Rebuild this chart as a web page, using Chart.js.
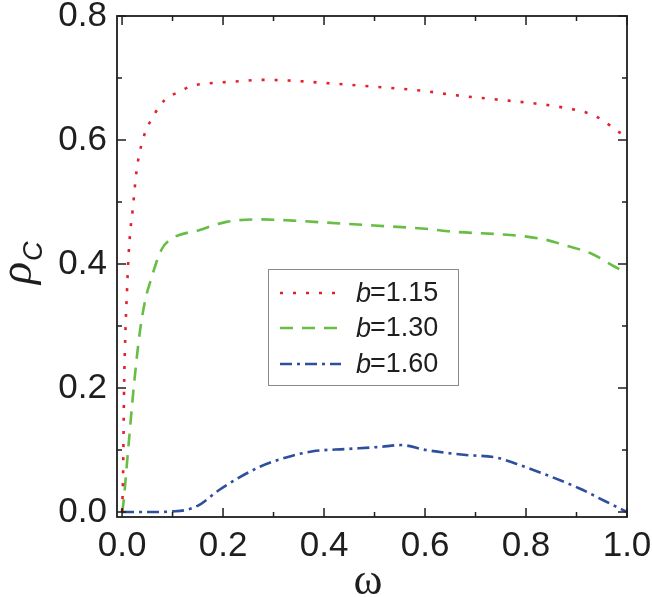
<!DOCTYPE html>
<html>
<head>
<meta charset="utf-8">
<script src="https://cdn.jsdelivr.net/npm/chart.js@4.4.1/dist/chart.umd.min.js"></script>
<style>
  html, body { margin: 0; padding: 0; background: #fff; }
  canvas { display: block; }
</style>
</head>
<body>
<canvas id="chart" width="652" height="597"></canvas>
<script>
// data
const xTicks = [0, 0.2, 0.4, 0.6, 0.8, 1.0];
const yTicks = [0, 0.2, 0.4, 0.6, 0.8];
const seriesLabels = ['1.15', '1.30', '1.60'];

const omegaRed = [0, 0.002, 0.004, 0.007, 0.010, 0.012, 0.016, 0.021, 0.029, 0.041, 0.063, 0.085, 0.114, 0.137, 0.18, 0.22, 0.276, 0.33, 0.4, 0.5, 0.6, 0.652, 0.734, 0.817, 0.869, 0.924, 0.952, 0.978, 1.0];
const rhoRed   = [0, 0.06, 0.2, 0.3, 0.36, 0.4, 0.45, 0.487, 0.552, 0.6, 0.64, 0.665, 0.678, 0.687, 0.692, 0.694, 0.697, 0.696, 0.692, 0.686, 0.679, 0.673, 0.666, 0.659, 0.653, 0.643, 0.632, 0.616, 0.605];

const omegaGreen = [0, 0.001, 0.012, 0.023, 0.035, 0.046, 0.055, 0.078, 0.095, 0.154, 0.207, 0.273, 0.338, 0.4, 0.5, 0.6, 0.658, 0.748, 0.793, 0.84, 0.882, 0.929, 0.975, 1.0];
const rhoGreen   = [0, 0.003, 0.1, 0.2, 0.289, 0.342, 0.369, 0.423, 0.439, 0.455, 0.468, 0.472, 0.47, 0.467, 0.462, 0.457, 0.452, 0.448, 0.445, 0.439, 0.429, 0.417, 0.396, 0.385];

const omegaBlue = [0, 0.05, 0.1, 0.13, 0.154, 0.193, 0.273, 0.325, 0.378, 0.444, 0.51, 0.553, 0.602, 0.681, 0.741, 0.78, 0.84, 0.906, 0.958, 1.0];
const rhoBlue   = [0, 0, 0.001, 0.004, 0.012, 0.036, 0.073, 0.088, 0.098, 0.1016, 0.105, 0.108, 0.1, 0.092, 0.088, 0.078, 0.06, 0.038, 0.017, 0.0];

const SANS = "'Liberation Sans', Arial, sans-serif";
const SERIF = "'Liberation Serif', 'Times New Roman', serif";
const INK = '#1e1e1e';

function pts(xs, ys) {
    return xs.map((x, i) => ({ x: x, y: ys[i] }));
}

function mkSet(label, xs, ys, color, dash) {
    return {
        label: label,
        data: pts(xs, ys),
        borderColor: color,
        borderWidth: 2.6,
        borderDash: dash,
        borderCapStyle: 'butt',
        pointRadius: 0,
        fill: false,
        cubicInterpolationMode: 'monotone'
    };
}

// frame + inward ticks on all four sides
const framePlugin = {
    id: 'frame',
    afterDatasetsDraw(chart) {
        const ctx = chart.ctx;
        const a = chart.chartArea;
        const xs = chart.scales.x, ys = chart.scales.y;
        ctx.save();
        ctx.strokeStyle = INK;
        ctx.lineWidth = 1.8;
        ctx.strokeRect(a.left, a.top, a.right - a.left, a.bottom - a.top);
        ctx.lineWidth = 1.5;
        ctx.beginPath();
        for (let v = 0; v <= 1.0001; v += 0.1) {
            const px = xs.getPixelForValue(v);
            const len = (Math.round(v * 10) % 2 === 0) ? 9 : 5;
            ctx.moveTo(px, a.bottom); ctx.lineTo(px, a.bottom - len);
            ctx.moveTo(px, a.top); ctx.lineTo(px, a.top + len);
        }
        for (let v = 0; v <= 0.8001; v += 0.1) {
            const py = ys.getPixelForValue(v);
            const len = (Math.round(v * 10) % 2 === 0) ? 9 : 5;
            ctx.moveTo(a.left, py); ctx.lineTo(a.left + len, py);
            ctx.moveTo(a.right, py); ctx.lineTo(a.right - len, py);
        }
        ctx.stroke();
        ctx.restore();
    }
};

// legend box with italic b
const legendPlugin = {
    id: 'boxLegend',
    afterDraw(chart) {
        const ctx = chart.ctx;
        const bx = 268, by = 269, bw = 190, bh = 116;
        ctx.save();
        ctx.fillStyle = '#fff';
        ctx.fillRect(bx, by, bw, bh);
        ctx.strokeStyle = '#8a8a8a';
        ctx.lineWidth = 1;
        ctx.strokeRect(bx + 0.5, by + 0.5, bw, bh);
        const rows = [293, 328, 364];
        chart.data.datasets.forEach((ds, i) => {
            const y = rows[i];
            ctx.strokeStyle = ds.borderColor;
            ctx.lineWidth = ds.borderWidth;
            ctx.setLineDash(ds.borderDash);
            ctx.beginPath();
            ctx.moveTo(280, y); ctx.lineTo(341, y);
            ctx.stroke();
            ctx.setLineDash([]);
            ctx.fillStyle = INK;
            ctx.textBaseline = 'middle';
            ctx.textAlign = 'left';
            ctx.font = 'italic 27px ' + SANS;
            ctx.fillText('b', 356, y + 1);
            const w = ctx.measureText('b').width;
            ctx.font = '27px ' + SANS;
            ctx.fillText('=' + seriesLabels[i], 356 + w - 1, y + 1);
        });
        ctx.restore();
    }
};

// axis titles: omega and rho_C
const titlesPlugin = {
    id: 'titles',
    afterDraw(chart) {
        const ctx = chart.ctx;
        ctx.save();
        ctx.fillStyle = INK;
        ctx.textAlign = 'center';
        ctx.textBaseline = 'alphabetic';
        ctx.font = '44px ' + SERIF;
        ctx.fillText('ω', 368, 594);

        ctx.translate(31, 284);
        ctx.rotate(-Math.PI / 2);
        ctx.textAlign = 'left';
        ctx.font = 'italic 46px ' + SERIF;
        ctx.fillText('ρ', 0, 0);
        const w = ctx.measureText('ρ').width;
        ctx.font = 'italic 27px ' + SANS;
        ctx.fillText('C', w + 1, 11);
        ctx.restore();
    }
};

const ctx = document.getElementById('chart').getContext('2d');
new Chart(ctx, {
    type: 'line',
    data: {
        datasets: [
            mkSet('b=1.15', omegaRed, rhoRed, '#e5202b', [3, 10]),
            mkSet('b=1.30', omegaGreen, rhoGreen, '#68bd45', [13, 9]),
            mkSet('b=1.60', omegaBlue, rhoBlue, '#2d4f9e', [12, 5, 3, 5])
        ]
    },
    options: {
        responsive: false,
        animation: false,
        layout: { padding: { top: 16, right: 25, left: 0, bottom: 0 } },
        plugins: { legend: { display: false }, tooltip: { enabled: false } },
        scales: {
            x: {
                type: 'linear',
                min: -0.01,
                max: 1.0,
                grid: { display: false, drawTicks: false },
                border: { display: false },
                afterBuildTicks: s => { s.ticks = xTicks.map(v => ({ value: v })); },
                afterFit: s => { s.height = 80; s.paddingLeft = 0; s.paddingRight = 0; },
                ticks: {
                    padding: 8,
                    color: INK,
                    font: { family: SANS, size: 35 },
                    maxRotation: 0,
                    callback: v => v.toFixed(1)
                }
            },
            y: {
                type: 'linear',
                min: -0.008,
                max: 0.8,
                grid: { display: false, drawTicks: false },
                border: { display: false },
                afterBuildTicks: s => { s.ticks = yTicks.map(v => ({ value: v })); },
                afterFit: s => { s.width = 117; s.paddingTop = 0; s.paddingBottom = 0; },
                ticks: {
                    padding: 10,
                    color: INK,
                    font: { family: SANS, size: 35 },
                    callback: v => v.toFixed(1)
                }
            }
        }
    },
    plugins: [framePlugin, legendPlugin, titlesPlugin]
});
</script>
</body>
</html>
